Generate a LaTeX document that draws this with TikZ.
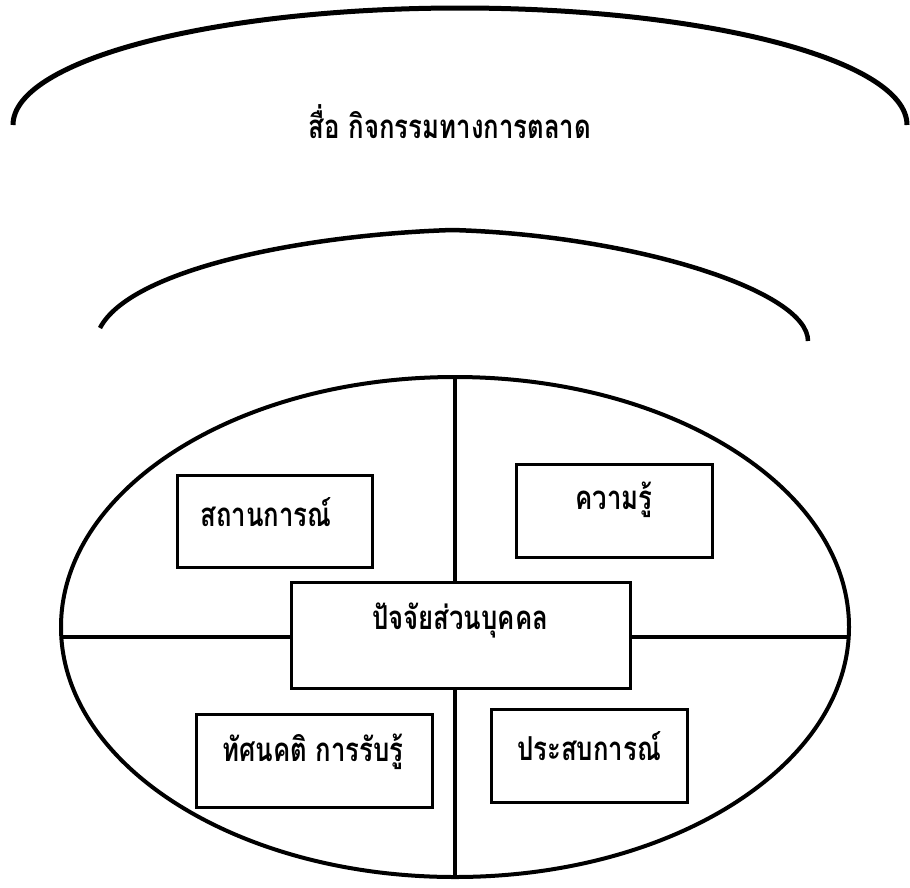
\documentclass[tikz,border=0pt]{standalone}
\usepackage{fontspec}
\newfontfamily\thaifont[Script=Thai,FakeStretch=0.78]{Loma}
\usetikzlibrary{shapes.geometric}
\begin{document}
\begin{tikzpicture}[x=1pt,y=-1pt,
  box/.style={draw, line width=3pt, fill=white, inner sep=0pt},
  heavy/.style={line width=4pt},
  lbl/.style={font=\thaifont\bfseries\fontsize{33}{36}\selectfont, inner sep=0pt}]
\useasboundingbox (0,0) rectangle (910,887);
% top arc
\draw[line width=5pt] (13,125) arc[start angle=180, end angle=360, x radius=447, y radius=117];
\node[lbl] (media) at (450,122) {สื่อ กิจกรรมทางการตลาด};
% second arc
\draw[line width=4.5pt] (100,328) .. controls (130,270) and (300,235) .. (452,230)
  .. controls (630,235) and (808,290) .. (808,341);
% oval
\node[ellipse, draw, heavy, minimum width=788pt, minimum height=500pt, inner sep=0pt] (oval) at (455,627) {};
\coordinate (vt) at (oval.north);
\coordinate (vb) at (oval.south);
\coordinate (hl) at (63,637);
\coordinate (hr) at (849,637);
\draw[heavy] (vt) -- (vb);
\draw[heavy] (hl) -- (hr);
% boxes
\node[box, minimum width=195pt, minimum height=92pt] (sit) at (274.5,521) {};
\node[lbl] (sitT) at (266,512) {สถานการณ์};
\node[box, minimum width=196pt, minimum height=93pt] (know) at (614,510.5) {};
\node[lbl] (knowT) at (614,500) {ความรู้};
\node[box, minimum width=339pt, minimum height=106pt] (pers) at (460.5,635) {};
\node[lbl] (persT) at (460,620) {ปัจจัยส่วนบุคคล};
\node[box, minimum width=236pt, minimum height=93pt] (att) at (314,760.5) {};
\node[lbl] (attT) at (313,752) {ทัศนคติ การรับรู้};
\node[box, minimum width=196pt, minimum height=93pt] (exp) at (589,755.5) {};
\node[lbl] (expT) at (589,746) {ประสบการณ์};
\end{tikzpicture}
\end{document}
